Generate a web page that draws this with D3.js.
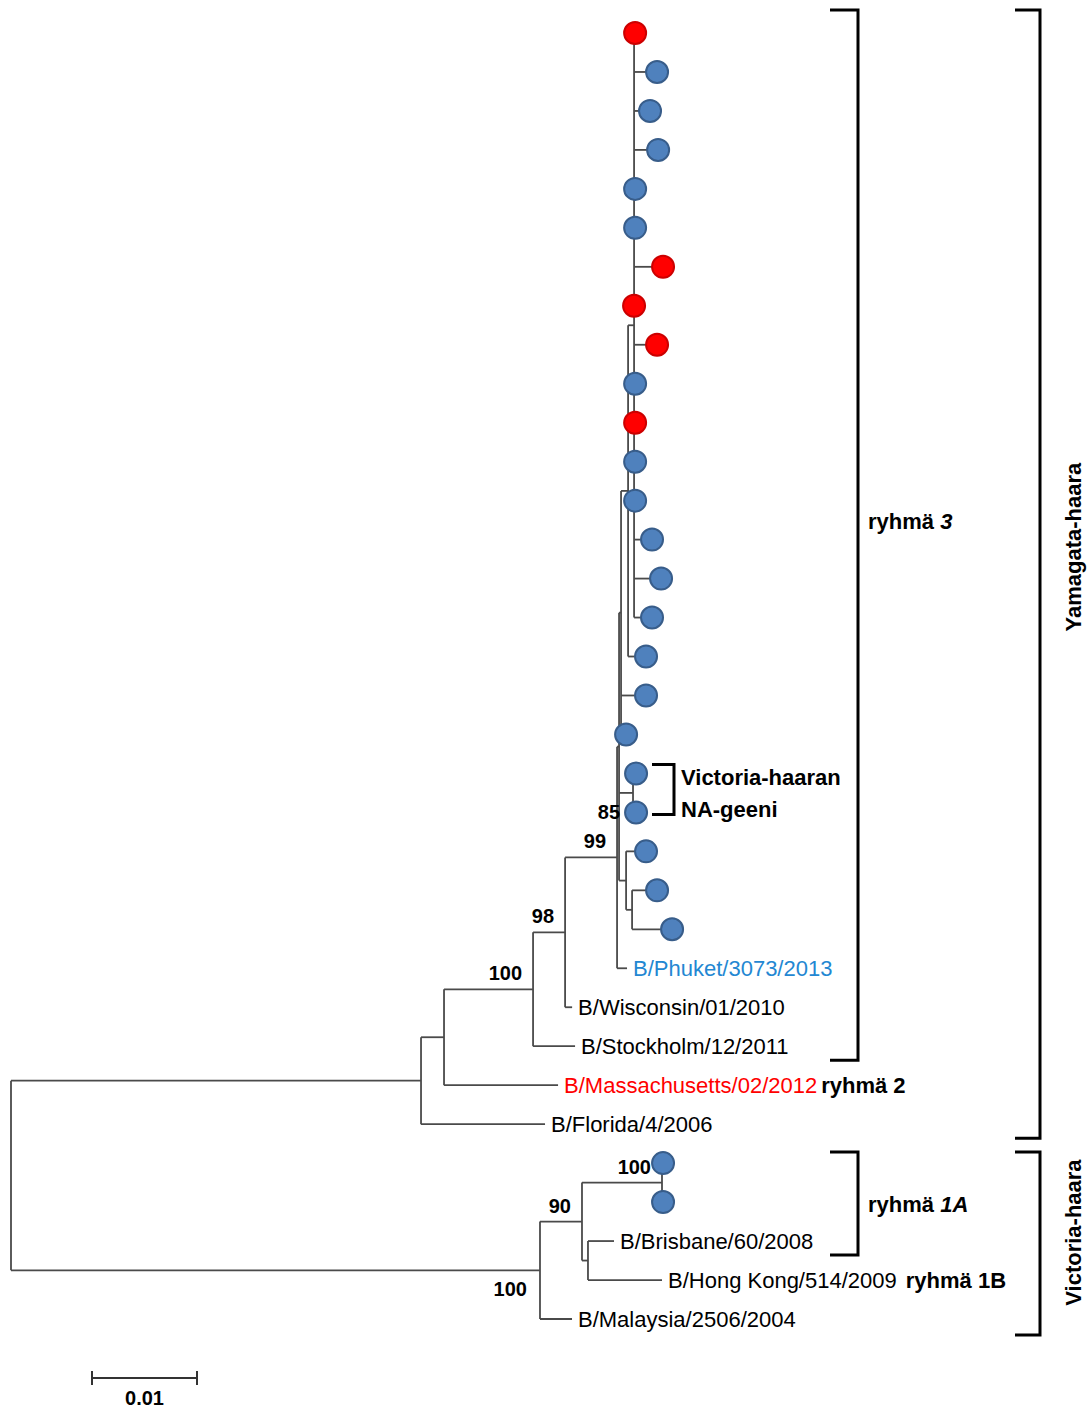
<!DOCTYPE html>
<html>
<head>
<meta charset="utf-8">
<script src="https://cdn.jsdelivr.net/npm/d3@7"></script>
<style>
  body { margin: 0; background: #fff; }
  text { font-family: "Liberation Sans", Arial, sans-serif; }
</style>
</head>
<body>
<div id="chart"></div>
<script>
// tree as [node, parent, branch length], listed top -> bottom (pre-order)
const branches = [
  ["root", "", 0],
  ["yam", "root", 0.03905],
  ["n444", "yam", 0.00219],
  ["n533", "n444", 0.00848],
  ["n566", "n533", 0.00305],
  ["A", "n566", 0.00495],
  ["B", "A", 0.00019],
  ["E", "B", 0.00019],
  ["F", "E", 0.00067],
  ["G", "F", 0.00057],
  ["s1", "G", 0.0001],
  ["s2", "G", 0.00219],
  ["s3", "G", 0.00152],
  ["s4", "G", 0.00229],
  ["s5", "G", 0.0001],
  ["s6", "G", 0.0001],
  ["s7", "G", 0.00276],
  ["s8", "G", 0],
  ["s9", "G", 0.00219],
  ["s10", "G", 0.0001],
  ["s11", "G", 0.0001],
  ["s12", "G", 0.0001],
  ["s13", "G", 0.0001],
  ["s14", "G", 0.00171],
  ["s15", "G", 0.00257],
  ["s16", "G", 0.00171],
  ["s17", "F", 0.00171],
  ["s18", "E", 0.00238],
  ["s19", "E", 0.00048],
  ["n85", "B", 0.00133],
  ["s20", "n85", 0.00029],
  ["s21", "n85", 0.00029],
  ["C", "B", 0.00067],
  ["s22", "C", 0.0019],
  ["D", "C", 0.00057],
  ["s23", "D", 0.00238],
  ["s24", "D", 0.00381],
  ["phuket", "A", 0.00095],
  ["wisconsin", "n566", 0.00067],
  ["stockholm", "n533", 0.004],
  ["mass", "n444", 0.01086],
  ["florida", "yam", 0.01181],
  ["vic", "root", 0.05038],
  ["n582", "vic", 0.004],
  ["n662", "n582", 0.00762],
  ["s30", "n662", 0.0001],
  ["s31", "n662", 0.0001],
  ["n588", "n582", 0.00057],
  ["brisbane", "n588", 0.00248],
  ["hongkong", "n588", 0.00705],
  ["malaysia", "vic", 0.00305]
];

const strainNames = [
  ["phuket", "B/Phuket/3073/2013"],
  ["wisconsin", "B/Wisconsin/01/2010"],
  ["stockholm", "B/Stockholm/12/2011"],
  ["mass", "B/Massachusetts/02/2012"],
  ["florida", "B/Florida/4/2006"],
  ["brisbane", "B/Brisbane/60/2008"],
  ["hongkong", "B/Hong Kong/514/2009"],
  ["malaysia", "B/Malaysia/2506/2004"]
];

// samples drawn red, the rest of the unnamed leaves blue
const redSamples = ["s1", "s7", "s8", "s9", "s11"];

// groups written right after a strain name
const inlineGroups = [["mass", "ryhmä 2", 4], ["hongkong", "ryhmä 1B", 9]];

const bootstrap = [
  ["n85", 85], ["A", 99], ["n566", 98], ["n533", 100],
  ["n662", 100], ["n582", 90], ["vic", 100]
];
const bootstrapBelow = ["n85", "vic"];

const groupBrackets = [
  { text: "ryhmä ", em: "3", from: "s1", to: "stockholm", shift: -14 },
  { text: "ryhmä ", em: "1A", from: "s30", to: "brisbane", shift: 0 }
];
const lineageBrackets = [
  { text: "Yamagata-haara", from: "s1", to: "florida", shift: -27 },
  { text: "Victoria-haara", from: "s30", to: "malaysia", shift: -10 }
];
const naBracket = { from: "s20", to: "s21", lines: ["Victoria-haaran", "NA-geeni"] };

const strainColor = { phuket: "#2387d2", mass: "#ff0000" };
const scaleBarValue = 0.01;

const width = 1092, height = 1410;
const lineColor = "#4a4a4a";

const svg = d3.select("#chart").append("svg")
  .attr("width", width)
  .attr("height", height)
  .style("background", "#fff");

const root = d3.stratify()
  .id(d => d[0])
  .parentId(d => d[1] || null)(branches);

const x = d3.scaleLinear().domain([0, 0.1]).range([11, 1061]);
const leaves = root.leaves();
const y = d3.scaleLinear().domain([0, leaves.length - 1]).range([33, 1319]);

// depth = cumulative branch length
root.eachBefore(n => {
  n.len = n.parent ? n.parent.len + n.data[2] : 0;
  n.x = x(n.len);
});
leaves.forEach((n, i) => { n.y = y(i); });
root.eachAfter(n => {
  if (n.children) n.y = (n.children[0].y + n.children[n.children.length - 1].y) / 2;
});

const byId = new Map(root.descendants().map(n => [n.id, n]));
const nameMap = new Map(strainNames);

const tree = svg.append("g")
  .attr("fill", "none")
  .attr("stroke", lineColor)
  .attr("stroke-width", 1.8);

// horizontal branches
tree.selectAll(".h")
  .data(root.descendants().filter(n => n.parent))
  .join("line")
  .attr("x1", n => n.parent.x)
  .attr("x2", n => n.x)
  .attr("y1", n => n.y)
  .attr("y2", n => n.y);

// vertical connectors
tree.selectAll(".v")
  .data(root.descendants().filter(n => n.children))
  .join("line")
  .attr("x1", n => n.x)
  .attr("x2", n => n.x)
  .attr("y1", n => n.children[0].y)
  .attr("y2", n => n.children[n.children.length - 1].y);

// sample dots
svg.append("g").selectAll("circle")
  .data(leaves.filter(n => !nameMap.has(n.id)))
  .join("circle")
  .attr("cx", n => n.x)
  .attr("cy", n => n.y)
  .attr("r", 11)
  .attr("fill", n => redSamples.includes(n.id) ? "#ff0000" : "#4f81bd")
  .attr("stroke", n => redSamples.includes(n.id) ? "#cc0000" : "#385d8a")
  .attr("stroke-width", 2);

// strain labels
const labels = svg.append("g").selectAll("text")
  .data(leaves.filter(n => nameMap.has(n.id)))
  .join("text")
  .attr("x", n => n.x + 6)
  .attr("y", n => n.y)
  .attr("dy", "0.36em")
  .attr("font-size", 22)
  .attr("fill", n => strainColor[n.id] || "#000")
  .text(n => nameMap.get(n.id));

labels.each(function (n) {
  const g = inlineGroups.find(d => d[0] === n.id);
  if (!g) return;
  d3.select(this).append("tspan")
    .attr("dx", g[2])
    .attr("fill", "#000")
    .attr("font-weight", "bold")
    .text(g[1]);
});

// bootstrap values
svg.append("g").selectAll("text")
  .data(bootstrap)
  .join("text")
  .attr("x", d => byId.get(d[0]).x - (bootstrapBelow.includes(d[0]) ? 13 : 11))
  .attr("y", d => byId.get(d[0]).y + (bootstrapBelow.includes(d[0]) ? 26 : -9))
  .attr("text-anchor", "end")
  .attr("font-size", 20)
  .attr("font-weight", "bold")
  .text(d => d[1]);

// bracket helper
function bracket(g, x0, x1, top, bottom, w) {
  g.append("path")
    .attr("d", `M${x0},${top}H${x1}V${bottom}H${x0}`)
    .attr("fill", "none")
    .attr("stroke", "#000")
    .attr("stroke-width", w);
}
function span(d) {
  const a = byId.get(d.from), b = byId.get(d.to);
  const top = leaves.indexOf(a) === 0 ? 10 : a.y - 11;
  return [top, b.y + 14];
}

const brackets = svg.append("g");

groupBrackets.forEach(d => {
  const [top, bottom] = span(d);
  bracket(brackets, 830, 858, top, bottom, 3);
  const t = brackets.append("text")
    .attr("x", 868)
    .attr("y", (top + bottom) / 2 + d.shift)
    .attr("dy", "0.36em")
    .attr("font-size", 22)
    .attr("font-weight", "bold")
    .text(d.text);
  t.append("tspan").attr("font-style", "italic").text(d.em);
});

lineageBrackets.forEach(d => {
  const [top, bottom] = span(d);
  bracket(brackets, 1015, 1040, top, bottom + (d.to === "malaysia" ? 2 : 0), 3);
  brackets.append("text")
    .attr("transform", `translate(1073,${(top + bottom) / 2 + d.shift}) rotate(-90)`)
    .attr("text-anchor", "middle")
    .attr("dy", "0.36em")
    .attr("font-size", 22)
    .attr("font-weight", "bold")
    .text(d.text);
});

{
  const a = byId.get(naBracket.from), b = byId.get(naBracket.to);
  bracket(brackets, 652, 674, a.y - 9, b.y + 2, 3);
  naBracket.lines.forEach((l, i) => {
    brackets.append("text")
      .attr("x", 681)
      .attr("y", a.y + 4 + i * 32)
      .attr("dy", "0.36em")
      .attr("font-size", 22)
      .attr("font-weight", "bold")
      .text(l);
  });
}

// scale bar
const sb = svg.append("g").attr("stroke", "#333").attr("stroke-width", 2);
const sbX0 = 92, sbX1 = 92 + (x(scaleBarValue) - x(0)), sbY = 1378;
sb.append("line").attr("x1", sbX0).attr("x2", sbX1).attr("y1", sbY).attr("y2", sbY);
[sbX0, sbX1].forEach(v => {
  sb.append("line").attr("x1", v).attr("x2", v).attr("y1", sbY - 7).attr("y2", sbY + 7);
});
svg.append("text")
  .attr("x", (sbX0 + sbX1) / 2)
  .attr("y", 1405)
  .attr("text-anchor", "middle")
  .attr("font-size", 20)
  .attr("font-weight", "bold")
  .text(d3.format(".2f")(scaleBarValue));
</script>
</body>
</html>
